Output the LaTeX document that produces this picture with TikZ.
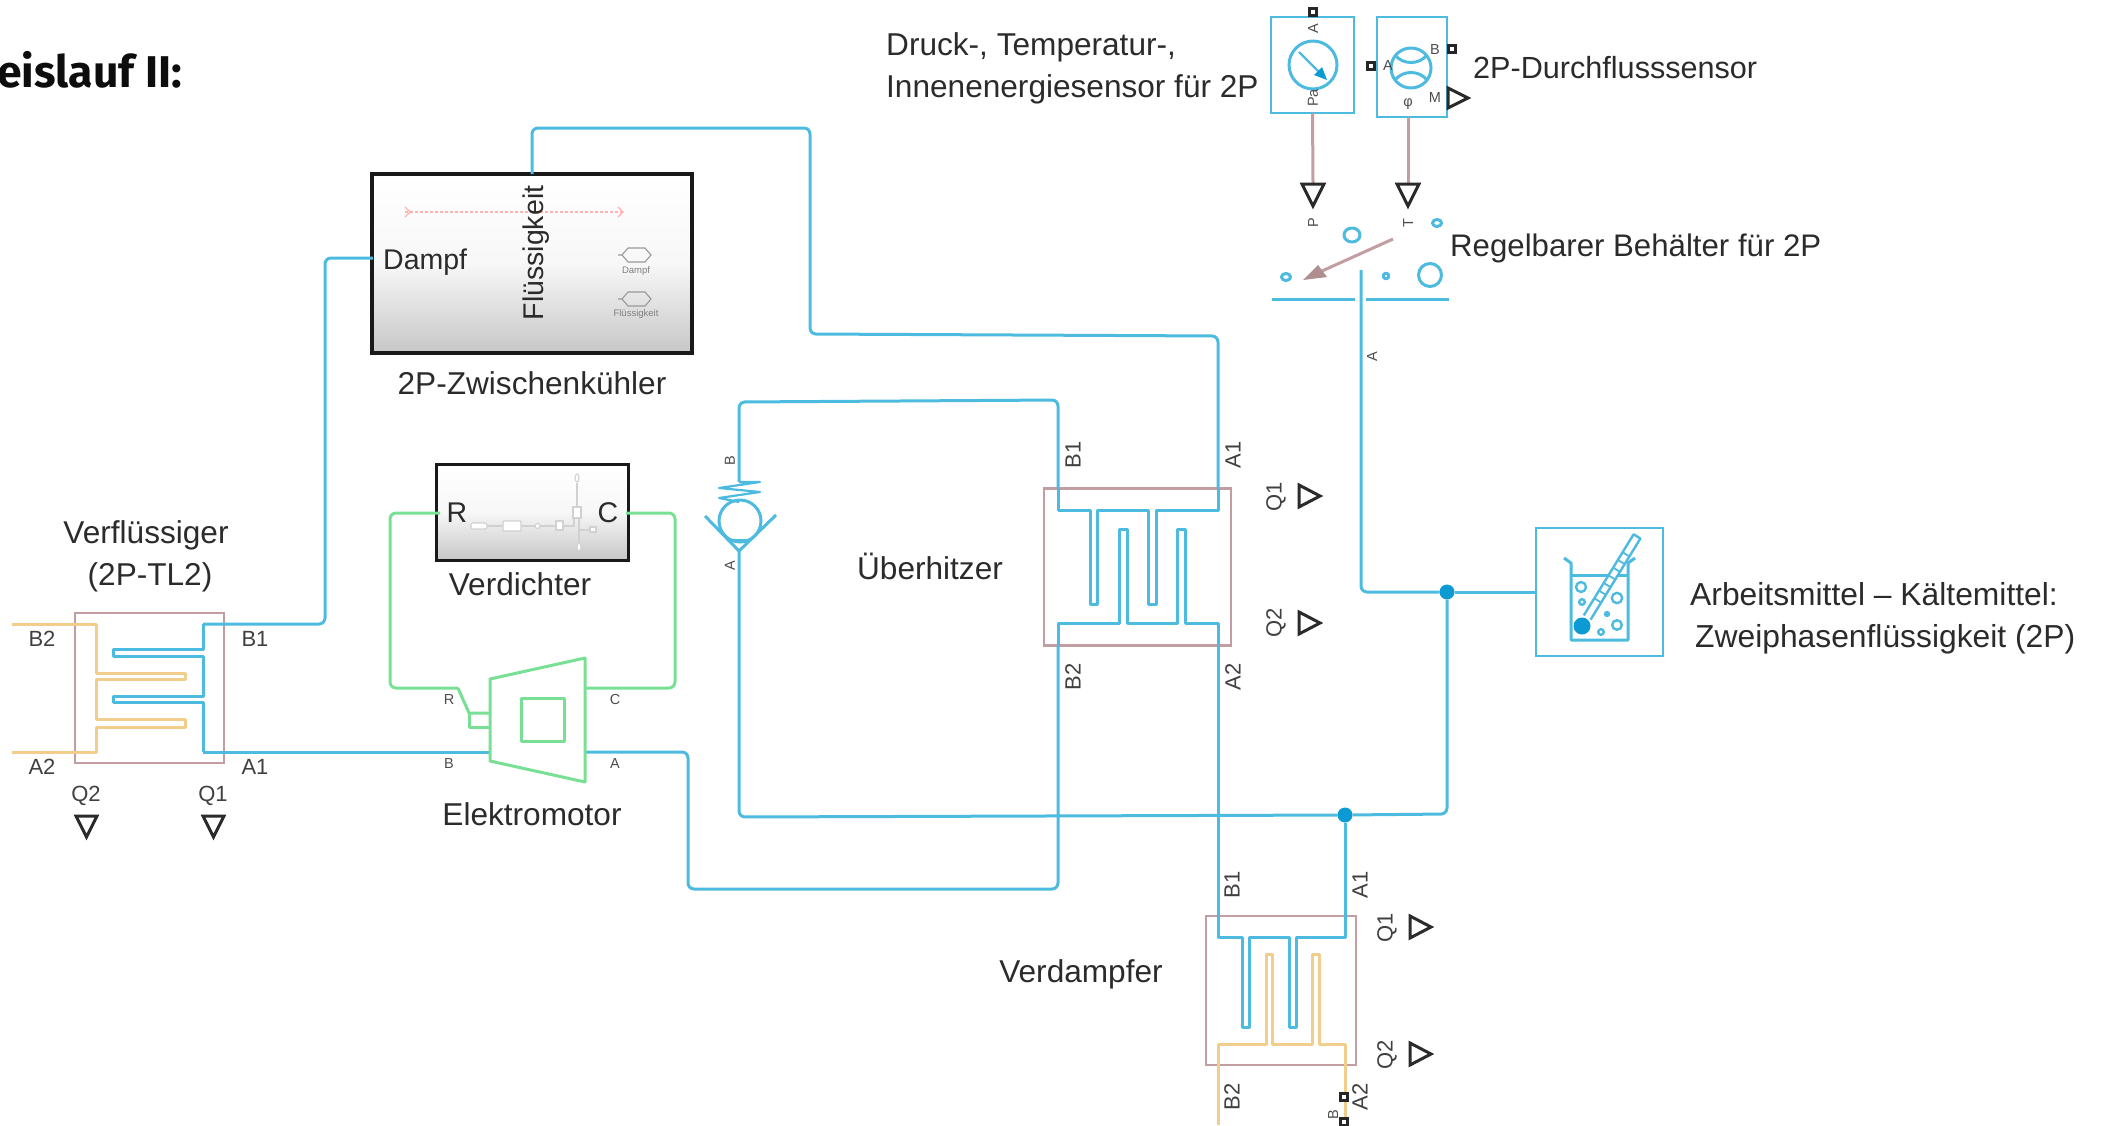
\documentclass[tikz,border=0pt]{standalone}
\usepackage{fontspec}
\setmainfont{Liberation Sans}
\newfontfamily\titlefont{Fira Sans}
\usetikzlibrary{shadows}
\definecolor{pipeblue}{HTML}{4DBAE0}
\definecolor{dotblue}{HTML}{0B9AD3}
\definecolor{pipeorange}{HTML}{F2CE8C}
\definecolor{pipegreen}{HTML}{78E094}
\definecolor{rosy}{HTML}{C29DA1}
\definecolor{inktext}{HTML}{2B2B2B}
\def\fs#1{\fontsize{#1pt}{#1pt}\selectfont}
\begin{document}
\begin{tikzpicture}[x=1pt,y=-1pt,
    pipe/.style={pipeblue,line width=3pt,line join=round},
    route/.style={pipe,rounded corners=6pt},
    warm/.style={pipeorange,line width=3pt,line join=round},
    elec/.style={pipegreen,line width=3pt,line join=round},
    sig/.style={rosy,line width=3pt},
    tri/.style={inktext,line width=3pt,line join=miter},
    port/.style={draw=black!85,line width=2.4pt,fill=white,minimum size=7pt,inner sep=0pt,outer sep=0pt},
    hxbox/.style={draw=rosy,line width=2.8pt,inner sep=0pt,outer sep=0pt},
    sensor/.style={draw=pipeblue,line width=2.8pt,inner sep=0pt,outer sep=0pt},
    subsys/.style={draw=black!90,inner sep=0pt,outer sep=0pt,top color=white,bottom color=black!22,middle color=black!3,
      drop shadow={shadow xshift=1.5pt,shadow yshift=-1.5pt,opacity=0.25}},
    jdot/.style={circle,fill=dotblue,minimum size=15pt,inner sep=0pt,outer sep=0pt},
    lbl/.style={text=inktext,inner sep=0pt,font=\fs{31.6}},
    lblin/.style={text=inktext,inner sep=0pt,font=\fs{28.5}},
    hxl/.style={text=black!75,inner sep=0pt,font=\fs{22}},
    tiny/.style={text=black!70,inner sep=0pt,font=\fs{14.5}},
    ghost/.style={draw=black!18,line width=1.1pt}]
  \useasboundingbox (0,0) rectangle (2101,1125);

  \node (titel) [anchor=west,inner sep=0pt,text=black!95,font=\titlefont\bfseries\fs{44.5}] at (-3,70) {eislauf II:};

  \node (kuehler) [subsys,line width=4.5pt,minimum width=320pt,minimum height=179pt] at (532,263.5) {};
  \node (verdichter) [subsys,line width=3pt,minimum width=192pt,minimum height=96pt] at (532,512) {};
  \node (ueber) [hxbox,minimum width=187pt,minimum height=157pt] at (1137.5,567) {};
  \node (verdampfer) [hxbox,minimum width=150pt,minimum height=149pt] at (1281,990.5) {};
  \node (verfl) [hxbox,minimum width=149pt,minimum height=150pt] at (149.5,688) {};
  \node (drucksens) [sensor,minimum width=83pt,minimum height=96pt] at (1312.5,65) {};
  \node (flusssens) [sensor,minimum width=70pt,minimum height=100pt] at (1412,67) {};
  \node (medium) [sensor,minimum width=127pt,minimum height=128pt] at (1599.5,592) {};

  \coordinate (ueA1) at (1218,488);
  \coordinate (ueB1) at (1058,488);
  \coordinate (ueA2) at (1218,646);
  \coordinate (ueB2) at (1058,646);
  \coordinate (vdB1) at (1218,916);
  \coordinate (vdA1) at (1345,916);
  \coordinate (vfB1) at (203,624);
  \coordinate (vfA1) at (203,752);
  \coordinate (mvB) at (739,482);
  \coordinate (mvA) at (739,551);
  \coordinate (mB) at (490,752);
  \coordinate (mA) at (585,752);
  \coordinate (mR) at (458,688);
  \coordinate (mC) at (585,688);
  \coordinate (vR) at (440,513);
  \coordinate (vC) at (626,513);
  \coordinate (tankA) at (1361,270);
  \coordinate (kD) at (373,258);

  \node (jA) [jdot] at (1345,815) {};
  \node (jB) [jdot] at (1447,592) {};

  % leitungen
  \draw[route] (kuehler.north) -- (532,128) -- (810,128) -- (810,334) -- (1218,336) -- (ueA1);
  \draw[pipe] (ueA2) -- (vdB1);
  \draw[route] (ueB1) -- (1058,400) -- (739,402) -- (mvB);
  \draw[route] (mvA) -- (739,817) -- (jA);
  \draw[pipe] (jA) -- (vdA1);
  \draw[route] (jA) -- (1447,814) -- (jB);
  \draw[route] (tankA) -- (1361,592) -- (jB);
  \draw[pipe] (jB) -- (medium.west);
  \draw[route] (mA) -- (688,752) -- (688,889) -- (1058,889) -- (ueB2);
  \draw[pipe] (vfA1) -- (mB);
  \draw[route] (vfB1) -- (325,624) -- (325,258) -- (kD);
  \draw[elec,rounded corners=6pt] (vR) -- (390,513) -- (390,688) -- (mR);
  \draw[elec,rounded corners=6pt] (vC) -- (675,513) -- (675,688) -- (mC);

  % ueberhitzer
  \draw[pipe] (ueB1) -- (1058,510) -- (1090,510) -- (1090,604) -- (1097,604) -- (1097,510) -- (1148,510) -- (1148,604) -- (1156,604) -- (1156,510) -- (1218,510) -- (ueA1);
  \draw[pipe] (ueB2) -- (1058,623) -- (1119,623) -- (1119,529) -- (1127,529) -- (1127,623) -- (1177,623) -- (1177,529) -- (1185,529) -- (1185,623) -- (1218,623) -- (ueA2);
  % verdampfer
  \draw[pipe] (vdB1) -- (1218,937) -- (1242,937) -- (1242,1027) -- (1249,1027) -- (1249,937) -- (1289,937) -- (1289,1027) -- (1296,1027) -- (1296,937) -- (1345,937) -- (vdA1);
  \draw[warm] (1218,1125) -- (1218,1044) -- (1266,1044) -- (1266,954) -- (1272,954) -- (1272,1044) -- (1312,1044) -- (1312,954) -- (1319,954) -- (1319,1044) -- (1345,1044) -- (1345,1125);
  % verfluessiger
  \draw[pipe] (vfB1) -- (203,649) -- (113,649) -- (113,656) -- (203,656) -- (203,696) -- (113,696) -- (113,702) -- (203,702) -- (vfA1);
  \draw[warm] (12,624) -- (96,624) -- (96,673) -- (185,673) -- (185,679) -- (96,679) -- (96,719) -- (185,719) -- (185,727) -- (96,727) -- (96,752) -- (12,752);

  % motor
  \draw[elec] (490,679) -- (585,658) -- (585,782) -- (490,761) -- cycle;
  \draw[elec] (521,698) rectangle (564,741);
  \draw[elec] (mR) -- (469,713) -- (490,713);
  \draw[elec] (469,713) -- (469,727) -- (490,727);

  % rueckschlagventil
  \draw[pipe,line width=2.2pt] (mvB) -- (760,482) -- (719,488) -- (760,492) -- (719,498) -- (739,502);
  \draw[pipe] (740,521) circle (21);
  \draw[pipe] (705,516) -- (mvA) -- (776,515);
  \draw[pipe] (729,540) -- (750,540);

  % sensoren
  \node (pA) [port] at (1313,12) {};
  \node (fA) [port] at (1371,66) {};
  \node (fB) [port] at (1452,49) {};
  \draw[pipe] (1313,65) circle (24);
  \draw[pipeblue,line width=2.4pt] (1299,52) -- (1320,73);
  \fill[dotblue] (1327,80) -- (1314,75) -- (1322,67) -- cycle;
  \draw[pipe] (1411,68) circle (20);
  \draw[pipe] (1395,55) .. controls (1403,65) and (1419,65) .. (1427,55);
  \draw[pipe] (1395,80) .. controls (1403,70) and (1419,70) .. (1427,80);
  \draw[sig] (drucksens.south) -- (1313,183);
  \draw[sig] (1408,117) -- (1408,183);
  \draw[tri] (1302,184) -- (1324,184) -- (1313,206) -- cycle;
  \draw[tri] (1397,184) -- (1419,184) -- (1408,206) -- cycle;
  \draw[tri] (1448,88) -- (1468,98) -- (1448,108) -- cycle;

  % behaelter
  \draw[pipe] (1352,235) ellipse (8 and 7);
  \draw[pipe] (1437,223) ellipse (4.5 and 3.5);
  \draw[pipe] (1286,277) ellipse (4.5 and 3.5);
  \draw[pipe] (1386,276) circle (2.8);
  \draw[pipe] (1430,275) circle (11.5);
  \draw[pipe] (1272,299) -- (1355,299);
  \draw[pipe] (1366,299) -- (1449,299);
  \draw[sig] (1393,239) -- (1322,271);
  \fill[rosy!90!black] (1303,280) -- (1318,265) -- (1327,277) -- cycle;

  % waermetauscher dreiecke
  \draw[tri] (1299,485) -- (1320,496) -- (1299,507) -- cycle;
  \draw[tri] (1299,612) -- (1320,623) -- (1299,634) -- cycle;
  \draw[tri] (1410,916) -- (1431,927) -- (1410,938) -- cycle;
  \draw[tri] (1410,1043) -- (1431,1054) -- (1410,1065) -- cycle;
  \draw[tri] (76,816) -- (97,816) -- (86.5,837) -- cycle;
  \draw[tri] (203,816) -- (224,816) -- (213.5,837) -- cycle;
  \node (vdP1) [port] at (1344,1097) {};
  \node (vdP2) [port] at (1344,1122) {};

  % becherglas
  \draw[pipe] (1564,558) -- (1571,563) -- (1571,640) -- (1628,640) -- (1628,563) -- (1635,558);
  \draw[pipe] (1571,575) -- (1628,575);
  \fill[white] (1583.8,615.4) -- (1633.6,534.3) -- (1640.4,538.5) -- (1590.6,619.6) -- cycle;
  \draw[pipe,line width=2.4pt] (1583.8,615.4) -- (1633.6,534.3) -- (1640.4,538.5) -- (1590.6,619.6);
  \foreach \s in {30,39,...,84}
    \draw[pipeblue,line width=1.8pt] ({1582+\s*0.523-3.4},{626-\s*0.853-2.1}) -- ({1582+\s*0.523+3.4},{626-\s*0.853+2.1});
  \fill[dotblue] (1582,626) circle (8.5);
  \draw[pipe,line width=2.4pt] (1581,587) circle (5);
  \draw[pipe,line width=2.4pt] (1582,602) circle (2.8);
  \draw[pipe,line width=2.4pt] (1617,598) circle (5.2);
  \fill[pipeblue] (1607,614) circle (3.2);
  \draw[pipe,line width=2.4pt] (1617,625) circle (4.8);
  \draw[pipe,line width=2.4pt] (1601,632) circle (2.8);

  % zwischenkuehler innen
  \draw[red!30,line width=1.4pt,densely dashed] (405,212) -- (623,212);
  \draw[red!30,line width=1.2pt] (405,207) -- (410,212) -- (405,217);
  \draw[red!30,line width=1.2pt] (618,207) -- (623,212) -- (618,217);
  \draw[black!40,line width=1.1pt] (618,255) -- (622,255) -- (628,248) -- (645,248) -- (651,255) -- (645,262) -- (628,262) -- (622,255);
  \draw[black!40,line width=1.1pt] (618,299) -- (622,299) -- (628,292) -- (645,292) -- (651,299) -- (645,306) -- (628,306) -- (622,299);

  % verdichter innen
  \draw[ghost] (487,526) -- (503,526) (521,526) -- (535,526) (540,526) -- (556,526) (563,526) -- (574,526) -- (574,518);
  \draw[ghost] (577,483) -- (577,507) (579,518) -- (579,543) (579,530) -- (590,530);
  \draw[ghost,fill=white,rounded corners=2pt] (471,523) rectangle (487,529);
  \draw[ghost,fill=white,rounded corners=1pt] (503,521) rectangle (521,531);
  \draw[ghost,fill=white] (537.5,526) circle (2.5);
  \draw[ghost,fill=white] (556,521) rectangle (563,530);
  \draw[ghost,fill=white] (573,507) rectangle (581,518);
  \draw[ghost,fill=white] (590,527) rectangle (596,532);
  \draw[ghost,fill=white] (579,547) ellipse (2 and 4);
  \draw[ghost,fill=white] (577,478) ellipse (2 and 4);

  % texte
  \node (dampf) [lblin,anchor=west] at (383,262) {Dampf};
  \node (fluessig) [lblin,rotate=90] at (536,253) {Flüssigkeit};
  \node (dampfk) [inner sep=0pt,text=black!50,font=\fs{9.5}] at (636,271) {Dampf};
  \node (fluessigk) [inner sep=0pt,text=black!50,font=\fs{9.5}] at (636,314) {Flüssigkeit};
  \node (zwkname) [lbl] at (532,383) {2P-Zwischenkühler};
  \node (vR1) [lblin] at (457,513) {R};
  \node (vC1) [lblin] at (608,513) {C};
  \node (vdname) [lbl] at (520,584) {Verdichter};
  \node (motorname) [lbl] at (532,814) {Elektromotor};
  \node (vf1) [lbl] at (146,535) {Verflüssiger};
  \node (vf2) [lbl] at (150,577) {(2P-TL2)};
  \node (uename) [lbl] at (930,566) {Überhitzer};
  \node (vdname2) [lbl] at (1081,974) {Verdampfer};
  \node (sens1) [lbl,anchor=west] at (886,47) {Druck-, Temperatur-,};
  \node (sens2) [lbl,anchor=west] at (886,89) {Innenenergiesensor für 2P};
  \node (sens3) [lbl,anchor=west,font=\fs{30.6}] at (1473,68) {2P-Durchflusssensor};
  \node (tankname) [lbl,anchor=west,font=\fs{31.2}] at (1450,248) {Regelbarer Behälter für 2P};
  \node (med1) [lbl,anchor=west,font=\fs{31.8}] at (1690,594) {Arbeitsmittel – Kältemittel:};
  \node (med2) [lbl,anchor=west,font=\fs{31.8}] at (1695,639) {Zweiphasenflüssigkeit (2P)};

  \node (lb1) [hxl] at (42,639) {B2};
  \node (lb2) [hxl] at (255,639) {B1};
  \node (lb3) [hxl] at (42,767) {A2};
  \node (lb4) [hxl] at (255,767) {A1};
  \node (lb5) [hxl] at (86,796) {Q2};
  \node (lb6) [hxl] at (213,796) {Q1};
  \node (lb7) [hxl,rotate=90] at (1073,455) {B1};
  \node (lb8) [hxl,rotate=90] at (1233,455) {A1};
  \node (lb9) [hxl,rotate=90] at (1073,677) {B2};
  \node (lb10) [hxl,rotate=90] at (1233,677) {A2};
  \node (lb11) [hxl,rotate=90] at (1276,497) {Q1};
  \node (lb12) [hxl,rotate=90] at (1276,623) {Q2};
  \node (lb13) [hxl,rotate=90] at (1232,885) {B1};
  \node (lb14) [hxl,rotate=90] at (1360,885) {A1};
  \node (lb15) [hxl,rotate=90] at (1232,1097) {B2};
  \node (lb16) [hxl,rotate=90] at (1360,1097) {A2};
  \node (lb17) [hxl,rotate=90] at (1387,928) {Q1};
  \node (lb18) [hxl,rotate=90] at (1387,1055) {Q2};

  \node (t1) [tiny] at (449,699) {R};
  \node (t2) [tiny] at (615,699) {C};
  \node (t3) [tiny] at (449,763) {B};
  \node (t4) [tiny] at (615,763) {A};
  \node (t5) [tiny,rotate=90] at (730,461) {B};
  \node (t6) [tiny,rotate=90] at (730,566) {A};
  \node (t7) [tiny,rotate=90] at (1372,357) {A};
  \node (t8) [tiny,rotate=90] at (1313,29) {A};
  \node (t9) [tiny,rotate=90] at (1313,98) {Pa};
  \node (t10) [tiny] at (1388,66) {A};
  \node (t11) [tiny] at (1435,50) {B};
  \node (t12) [tiny] at (1435,98) {M};
  \node (t13) [tiny] at (1408,104) {φ};
  \node (t14) [tiny,rotate=90] at (1313,223) {P};
  \node (t15) [tiny,rotate=90] at (1408,223) {T};
  \node (t16) [tiny,rotate=90] at (1333,1115) {B};
\end{tikzpicture}
\end{document}
